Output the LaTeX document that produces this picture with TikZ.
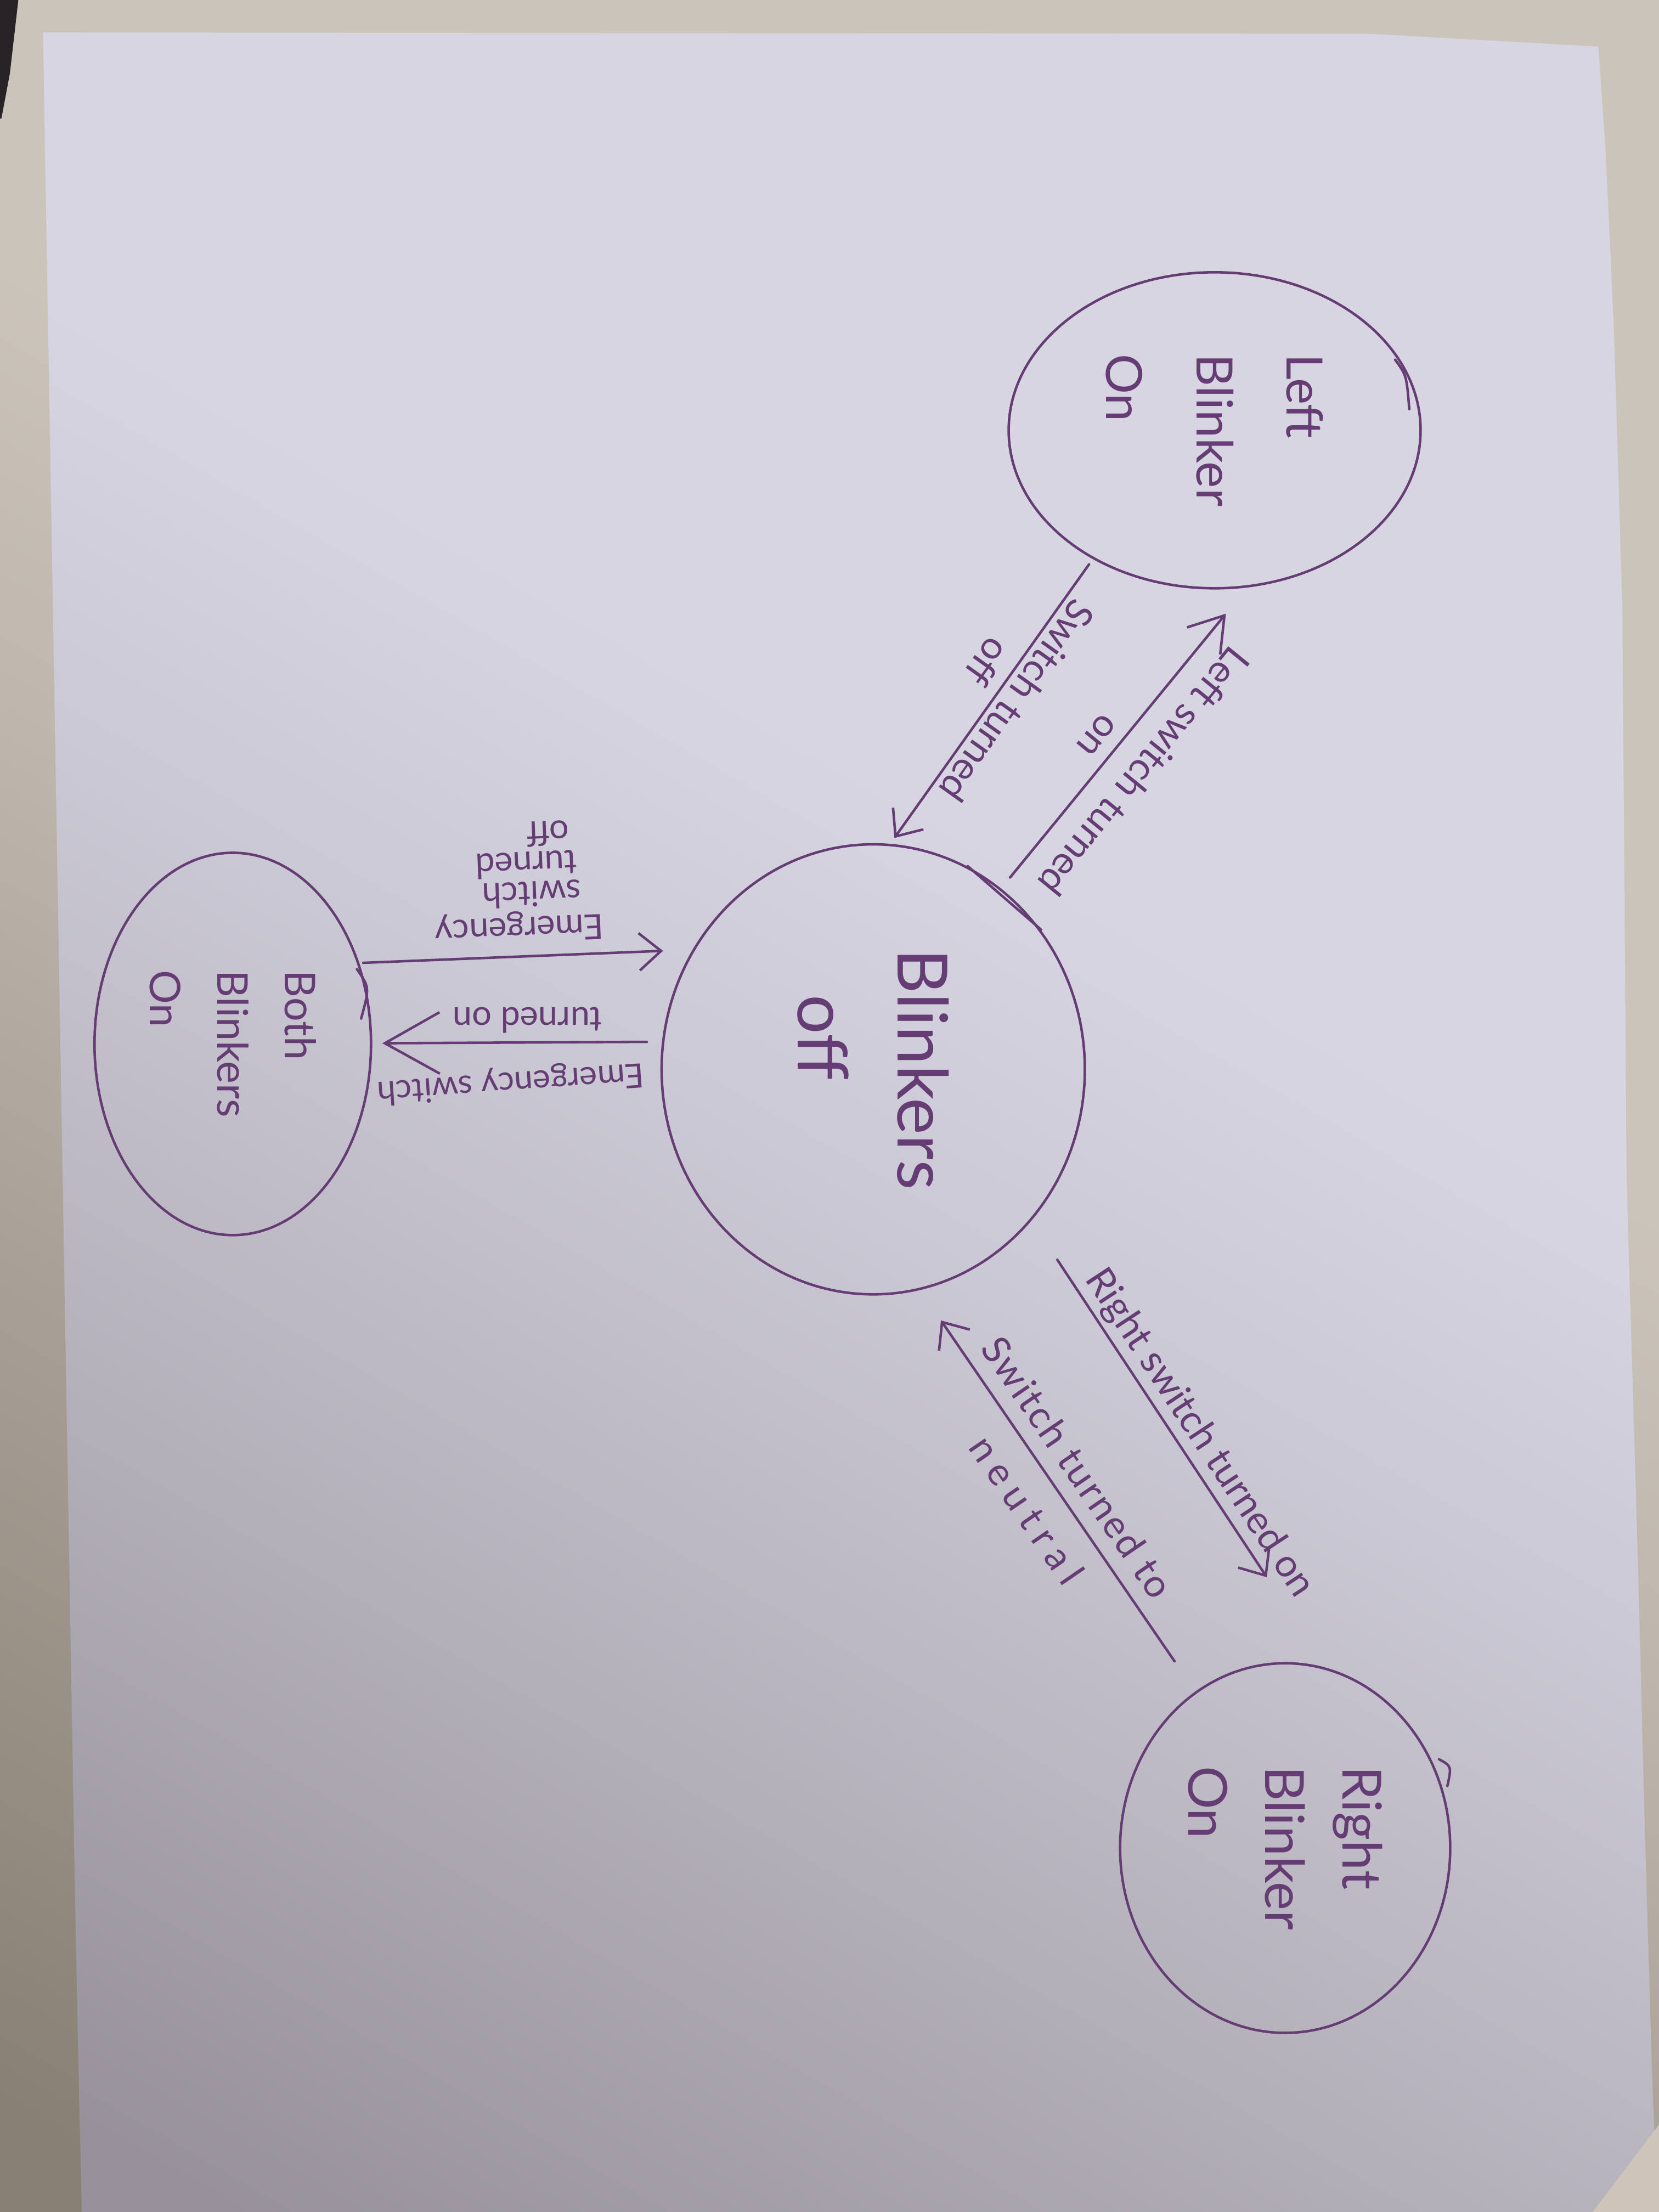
\documentclass[tikz,border=0pt]{standalone}
\usepackage{fontspec}
\setmainfont{Lato}
\usetikzlibrary{arrows.meta,shapes.geometric}

% ink and paper colours
\definecolor{ink}{RGB}{102,60,116}
\definecolor{paperA}{RGB}{214,213,225}
\definecolor{paperB}{RGB}{202,200,212}
\definecolor{paperC}{RGB}{182,178,188}
\definecolor{paperD}{RGB}{150,145,154}
\definecolor{deskA}{RGB}{203,196,186}
\definecolor{deskB}{RGB}{190,182,172}
\definecolor{deskC}{RGB}{166,158,148}
\definecolor{deskD}{RGB}{136,128,116}
\definecolor{corner}{RGB}{40,35,38}
\definecolor{sheet}{RGB}{206,196,184}

\pgfdeclareverticalshading{papershade}{100bp}{color(0bp)=(paperD); color(18bp)=(paperD); color(35bp)=(paperC); color(48bp)=(paperB); color(58bp)=(paperA); color(100bp)=(paperA)}
\pgfdeclareverticalshading{deskshade}{100bp}{color(0bp)=(deskD); color(18bp)=(deskD); color(35bp)=(deskC); color(48bp)=(deskB); color(58bp)=(deskA); color(100bp)=(deskA)}

\newlength\pxu
\setlength\pxu{0.012857cm}

\tikzset{
  state/.style={draw=ink, line width=0.65pt, ellipse, inner sep=0pt, text=ink, align=left, rotate=-90},
  pen/.style={draw=ink, line width=0.65pt, line cap=round},
  barb/.style={pen, -{Straight Barb[length=2mm,width=3.4mm]}},
  barbmid/.style={pen, -{Straight Barb[length=3mm,width=3.9mm]}},
  barbbig/.style={pen, -{Straight Barb[length=5mm,width=5.6mm]}},
  lbl/.style={text=ink, inner sep=0pt, font=\fontsize{10}{12}\selectfont},
  lblsmall/.style={text=ink, inner sep=0pt, font=\fontsize{9}{11}\selectfont},
}

\begin{document}
\begin{tikzpicture}[x=0.012857cm, y=-0.012857cm]
\useasboundingbox (0,0) rectangle (1176,1568);

% desk behind the sheet
\shade[shading=deskshade, shading angle=-30] (0,0) rectangle (1176,1568);
\fill[corner] (0,0) -- (13,0) -- (7,52) -- (1,84) -- (0,84) -- cycle;

% the sheet of paper
\shade[shading=papershade, shading angle=-30]
  (30.5,23) -- (972,24) -- (1133,33) -- (1138,104) -- (1144,233)
  -- (1150,430) -- (1153,835) -- (1161,1105) -- (1166,1300) -- (1171,1468)
  -- (1175,1568) -- (58,1568) -- (56,1484) -- (53,1335) -- cycle;
\fill[sheet] (1129,1568) -- (1176,1506) -- (1176,1568) -- cycle;

% states
\node[state, minimum width=224\pxu, minimum height=292\pxu,
      font=\fontsize{13}{23.4}\selectfont] (L) at (861,305) {Left\\Blinker\\On};
\node[state, minimum width=319\pxu, minimum height=300\pxu,
      font=\fontsize{18}{26}\selectfont] (B) at (619,758) {Blinkers\\\hspace*{12pt}off};
\node[state, minimum width=271\pxu, minimum height=196\pxu,
      font=\fontsize{11}{17.5}\selectfont] (E) at (165,740) {Both\\Blinkers\\On};
\node[state, minimum width=262\pxu, minimum height=234\pxu,
      font=\fontsize{14}{20}\selectfont] (R) at (911,1310) {Right\\Blinker\\On};

% pen overlaps where the circles were closed
\draw[pen] (989,255) .. controls (997,266) .. (999,290);
\draw[pen] (686,614) -- (738,659);
\draw[pen] (253,687) .. controls (262,700) .. (256,722);
\draw[pen] (1020,1247) .. controls (1029,1252) .. (1026,1266);

% transition end points
\coordinate (a1s) at (716,622);   \coordinate (a1e) at (869,435);
\coordinate (a2s) at (772,400);   \coordinate (a2e) at (634,594);
\coordinate (a3s) at (257.5,682.5); \coordinate (a3e) at (470,674);
\coordinate (a4s) at (458.5,738.5); \coordinate (a4e) at (271,739.5);
\coordinate (a5s) at (749.5,893); \coordinate (a5e) at (898,1118);
\coordinate (a6s) at (832.6,1177.6); \coordinate (a6e) at (667,936);

% transitions
\draw[barbmid] (a1s) -- (a1e);
\draw[barb] (a2s) -- (a2e);
\draw[barb] (a3s) -- (a3e);
\draw[barbbig] (a4s) -- (a4e);
\draw[barb] (a5s) -- (a5e);
\draw[barb] (a6s) -- (a6e);

% transition labels
\node[lbl, rotate=-129.3] (t1a) at (811,547) {Left switch turned};
\node[lbl, rotate=-129.3] (t1b) at (777,521) {on};
\node[lbl, rotate=-125.4] (t2a) at (721,497) {Switch turned};
\node[lbl, rotate=-125.4] (t2b) at (700,469) {off};
\node[lblsmall, rotate=182.3] (t3a) at (368,657) {Emergency};
\node[lblsmall, rotate=182.3] (t3b) at (377,634) {switch};
\node[lblsmall, rotate=182.3] (t3c) at (373,613) {turned};
\node[lblsmall, rotate=182.3] (t3d) at (388.5,591) {off};
\node[lblsmall, rotate=180] (t4a) at (374,723) {turned on};
\node[lblsmall, rotate=184, font=\fontsize{8.7}{11}\selectfont] (t4b) at (362,767) {Emergency switch};
\node[lbl, rotate=-56.6] (t5) at (850,1016) {Right switch turned on};
\node[lbl, rotate=-55.6, font=\fontsize{10}{12}\selectfont\addfontfeature{LetterSpace=5}] (t6a) at (764,1040) {Switch turned to};
\node[lbl, rotate=-55.6, font=\fontsize{10}{12}\selectfont\addfontfeature{LetterSpace=22}] (t6b) at (728,1070) {neutral};
\end{tikzpicture}
\end{document}
